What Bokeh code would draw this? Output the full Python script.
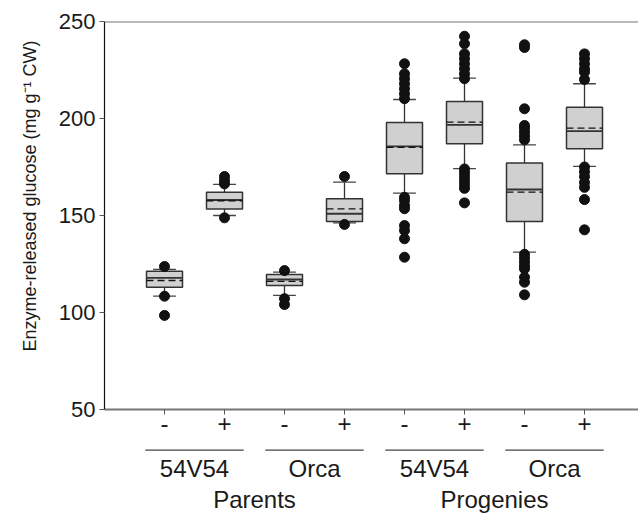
from bokeh.plotting import figure
from bokeh.models import Range1d, Span, FixedTicker, Title
from bokeh.layouts import column
from bokeh.core.properties import value
from bokeh.embed import file_html
from bokeh.resources import INLINE

# ---- data ----
treat_labels = ["-", "+", "-", "+", "-", "+", "-", "+"]
genotypes = ["54V54", "Orca", "54V54", "Orca"]
generations = ["Parents", "Progenies"]

q1 = [113.0, 153.4, 113.9, 146.9, 171.5, 187.0, 146.9, 184.4]
median = [117.8, 158.0, 117.0, 150.9, 185.6, 196.7, 163.4, 193.5]
q3 = [121.3, 162.0, 119.6, 158.6, 197.9, 208.8, 177.0, 205.8]
mean = [116.5, 157.5, 116.0, 153.4, 185.1, 198.1, 162.0, 195.0]
whisk_lo = [108.4, 150.0, 108.8, 146.2, 161.5, 174.2, 131.1, 175.3]
whisk_hi = [122.2, 166.0, 120.8, 167.2, 209.8, 220.8, 186.4, 217.9]

outliers = [
    [123.7, 108.4, 98.5],
    [170.1, 168.0, 166.3, 148.8],
    [121.6, 107.1, 104.1],
    [170.1, 145.4],
    [228.2, 223.0, 220.5, 217.9, 215.3, 212.7, 210.2,
     159.4, 157.7, 155.2, 153.5, 144.8, 142.3, 138.0, 128.5],
    [242.4, 238.5, 233.3, 230.8, 228.2, 225.6, 223.0, 220.5,
     174.0, 172.0, 170.0, 168.0, 166.0, 164.0, 156.5],
    [238.0, 236.6, 205.0, 196.4, 195.0, 193.0, 191.0, 189.0,
     130.0, 128.0, 126.0, 124.0, 122.5, 118.2, 115.6, 109.1],
    [233.3, 230.8, 228.2, 225.6, 223.9, 220.1,
     175.0, 172.5, 170.0, 167.0, 164.5, 158.2, 142.6],
]

yticks = [50, 100, 150, 200, 250]
ylabel = "Enzyme-released glucose (mg g\u207b\u00b9 CW)"

# ---- derived positions ----
xs = list(range(1, len(q1) + 1))
bw = 0.6
cw = 0.38
FONT = "Liberation Sans"
TXT = "#1a1a1a"

xr = Range1d(0, 8.9)

p = figure(width=638, height=445, output_backend="svg", toolbar_location=None,
           x_range=xr, y_range=Range1d(50, 250),
           min_border_left=104, min_border_right=0, min_border_top=21,
           min_border_bottom=36)
p.outline_line_color = None
p.xgrid.visible = False
p.ygrid.visible = False
p.background_fill_color = "white"
p.border_fill_color = "white"

# whiskers
p.segment(x0=xs, x1=xs, y0=q3, y1=whisk_hi, line_color="#333333", line_width=1.3)
p.segment(x0=xs, x1=xs, y0=q1, y1=whisk_lo, line_color="#333333", line_width=1.3)
# caps
p.segment(x0=[x - cw / 2 for x in xs], x1=[x + cw / 2 for x in xs], y0=whisk_hi, y1=whisk_hi,
          line_color="#444444", line_width=1.3)
p.segment(x0=[x - cw / 2 for x in xs], x1=[x + cw / 2 for x in xs], y0=whisk_lo, y1=whisk_lo,
          line_color="#444444", line_width=1.3)
# boxes
p.quad(left=[x - bw / 2 for x in xs], right=[x + bw / 2 for x in xs], bottom=q1, top=q3,
       fill_color="#d0d0d0", line_color="#333333", line_width=1.5)
# median
p.segment(x0=[x - bw / 2 for x in xs], x1=[x + bw / 2 for x in xs], y0=median, y1=median,
          line_color="#333333", line_width=1.8)
# mean
p.segment(x0=[x - bw / 2 for x in xs], x1=[x + bw / 2 for x in xs], y0=mean, y1=mean,
          line_color="#111111", line_width=1.3, line_dash="7 4")
# outliers
ox, oy = [], []
for x, vals in zip(xs, outliers):
    for v in vals:
        ox.append(x)
        oy.append(v)
p.scatter(ox, oy, size=10, fill_color="#111111", line_color="#111111")

# top frame line
p.add_layout(Span(location=250, dimension="width", line_color="#777777", line_width=2))

# axes
p.yaxis.ticker = FixedTicker(ticks=yticks)
p.yaxis.minor_tick_line_color = None
p.yaxis.major_tick_in = 0
p.yaxis.major_tick_out = 5
p.yaxis.axis_line_color = "#111111"
p.yaxis.axis_line_width = 1.2
p.yaxis.major_tick_line_color = "#555555"
p.yaxis.major_label_text_font = FONT
p.yaxis.major_label_text_font_size = "22px"
p.yaxis.major_label_text_color = TXT
p.yaxis.major_label_standoff = 4

# y label as a left-side title (placed toward the top, like the reference)
p.add_layout(Title(text=ylabel, align="right", offset=19, standoff=31,
                   text_font=FONT, text_font_size="18px", text_font_style="normal",
                   text_color=TXT), "left")

p.xaxis.ticker = FixedTicker(ticks=xs)
p.xaxis.major_label_overrides = {x: t for x, t in zip(xs, treat_labels)}
p.xaxis.minor_tick_line_color = None
p.xaxis.major_tick_in = 0
p.xaxis.major_tick_out = 5
p.xaxis.axis_line_color = "#777777"
p.xaxis.axis_line_width = 2
p.xaxis.major_label_text_font = FONT
p.xaxis.major_tick_line_color = "#555555"
p.xaxis.major_label_text_font_size = "24px"
p.xaxis.major_label_text_color = TXT
p.xaxis.major_label_standoff = 0

# ---- lower strip with the group labels (y runs downward in page pixels) ----
p2 = figure(width=638, height=68, output_backend="svg", toolbar_location=None,
            x_range=xr, y_range=Range1d(513, 445),
            x_axis_type=None, y_axis_type=None,
            min_border_left=104, min_border_right=0, min_border_top=0, min_border_bottom=0)
p2.outline_line_color = None
p2.xgrid.visible = False
p2.ygrid.visible = False
p2.background_fill_color = "white"
p2.border_fill_color = "white"

y_line, y_geno, y_gen = 449.6, 468, 499
gc = [xs[2 * i] + 0.5 for i in range(len(genotypes))]
p2.segment(x0=[c - 0.82 for c in gc], x1=[c + 0.82 for c in gc],
           y0=[y_line] * len(gc), y1=[y_line] * len(gc), line_color="#444444", line_width=1.3)
p2.text(x=gc, y=[y_geno] * len(gc), text=genotypes, text_align="center",
        text_baseline="middle", text_font=value(FONT), text_font_size="24px", text_color=TXT)
gen_c = [(xs[4 * j] + xs[4 * j + 3]) / 2 for j in range(len(generations))]
p2.text(x=gen_c, y=[y_gen] * len(gen_c), text=generations, text_align="center",
        text_baseline="middle", text_font=value(FONT), text_font_size="24px", text_color=TXT)

layout = column(p, p2, spacing=0)
open("out.html", "w").write(file_html(layout, INLINE))
